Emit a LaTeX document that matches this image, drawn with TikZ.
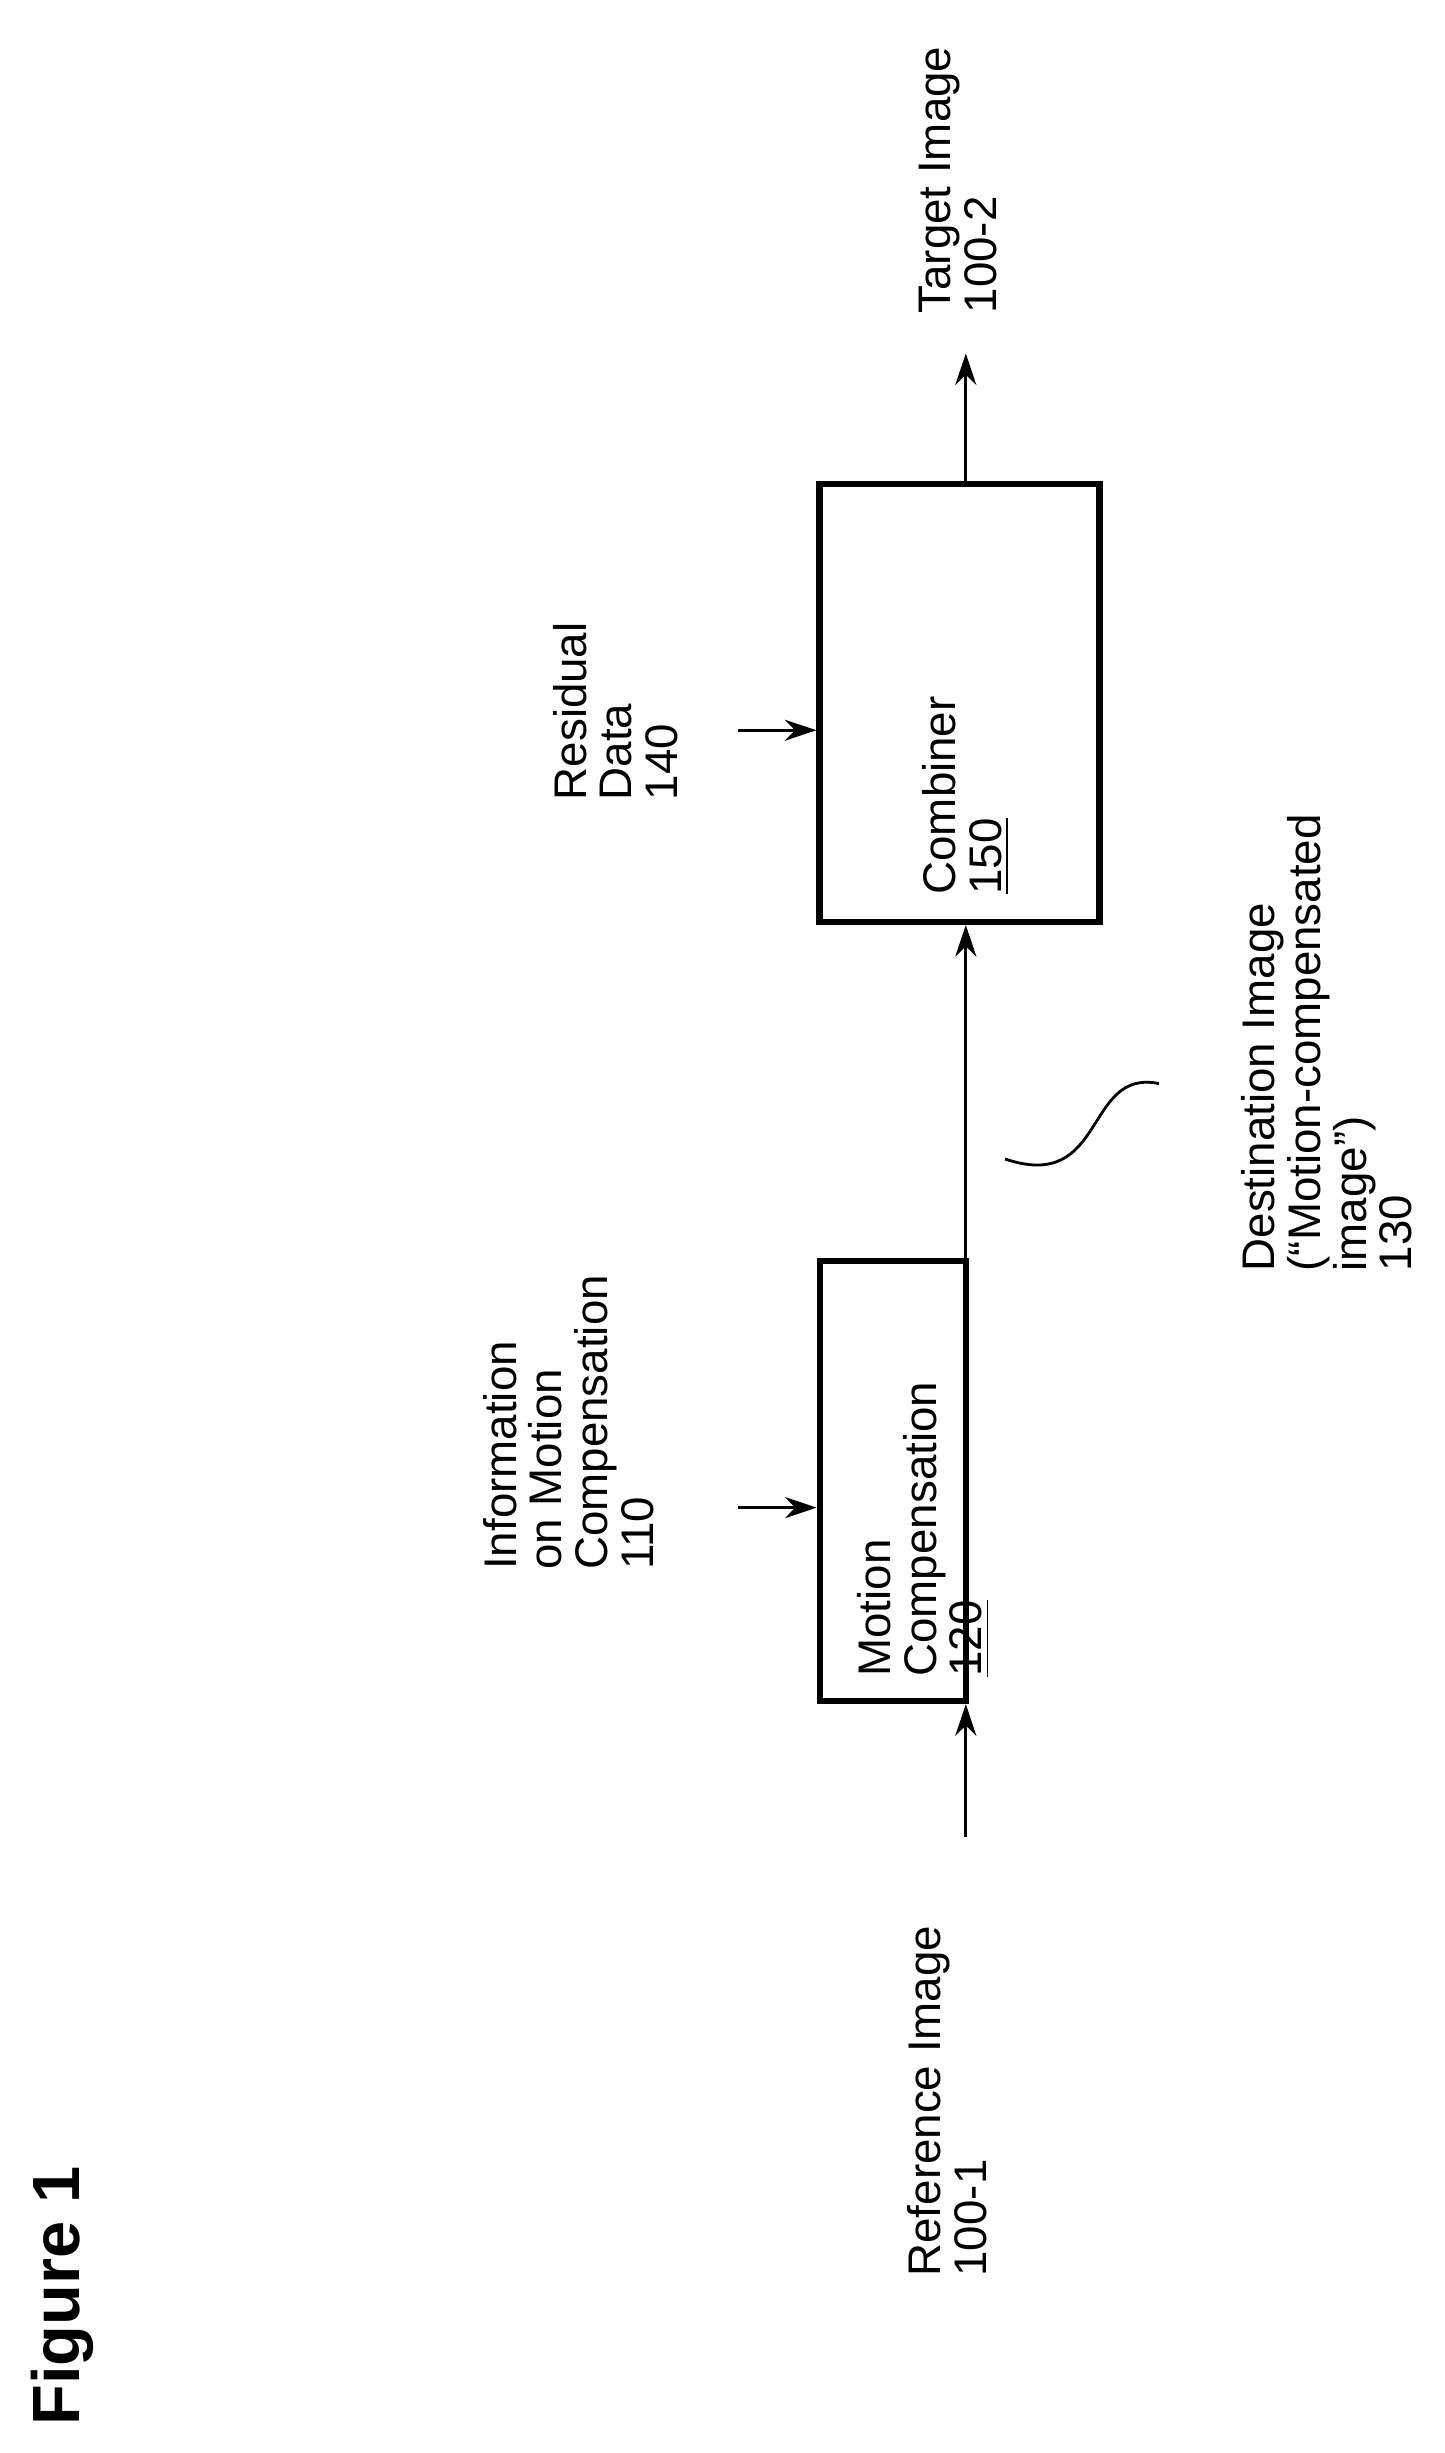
\documentclass[tikz,border=0pt]{standalone}
\usepackage{fontspec}
\setmainfont{Liberation Sans}
\usetikzlibrary{arrows.meta}
\begin{document}
\begin{tikzpicture}[x=0.015707cm, y=-0.015707cm,
  font=\fontsize{13}{13}\selectfont,
  box/.style={draw, line width=1.8pt, inner sep=0pt},
  lbl/.style={rotate=90, anchor=west, align=left, inner sep=0pt},
  flow/.style={line width=0.8pt, -{Stealth[length=9pt, width=6pt]}}]

  \useasboundingbox (0,0) rectangle (920,1562);

  % coordinates
  \coordinate (refin) at (615,1170);
  \coordinate (info) at (470,960);
  \coordinate (resin) at (470,465);
  \coordinate (out) at (615,225);

  % boxes
  \node[box, minimum width=1.46cm, minimum height=4.40cm] (mc) at (568.5,943) {};
  \node[box, minimum width=2.80cm, minimum height=4.38cm] (comb) at (611,447.5) {};
  \node[lbl] (mctext) at (588,1068) {Motion\\Compensation\\\underline{120}};
  \node[lbl] (combtext) at (615,570) {Combiner\\\underline{150}};

  % labels
  \node[lbl] (reftext) at (603,1450) {Reference Image\\100-1};
  \node[lbl] (infotext) at (362,1000) {Information\\on Motion\\Compensation\\110};
  \node[lbl] (restext) at (392,510) {Residual\\Data\\140};
  \node[lbl] (desttext) at (845,810) {Destination Image\\(``Motion-compensated\\image'')\\130};
  \node[lbl] (outtext) at (610,200) {Target Image\\100-2};
  \node[lbl, font=\fontsize{19}{21}\selectfont\bfseries] (fig) at (40,1545) {Figure 1};

  % connectors
  \draw[flow] (refin) -- (refin |- mc.south);
  \draw[flow] (info) -- (info -| mc.west);
  \draw[flow] (refin |- mc.north) -- (refin |- comb.south);
  \draw[flow] (resin) -- (resin -| comb.west);
  \draw[flow] (refin |- comb.north) -- (out);

  % lead line
  \draw[line width=0.8pt] (640,738) .. controls (705,760) and (690,680) .. (738,690);
\end{tikzpicture}
\end{document}
